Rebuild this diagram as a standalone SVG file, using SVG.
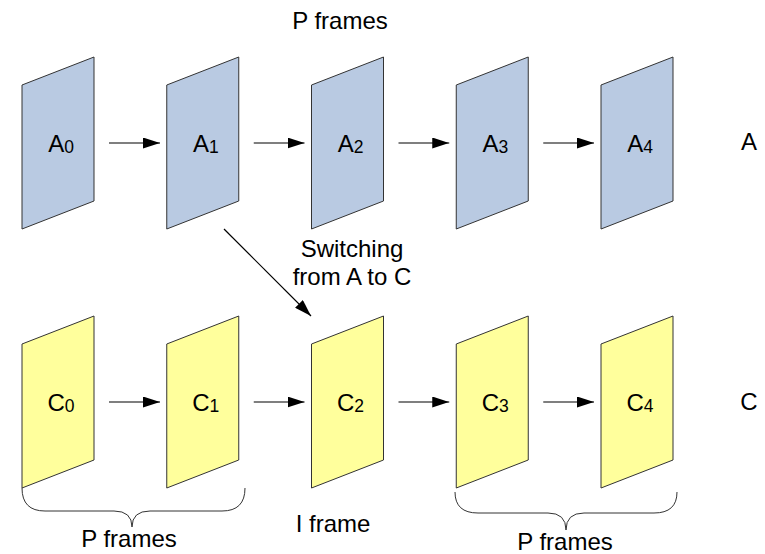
<svg xmlns="http://www.w3.org/2000/svg" width="765" height="554" viewBox="0 0 765 554">
<defs>
<style>
.a{fill:#b9cae2;stroke:#333;stroke-width:1}
.c{fill:#ffff9c;stroke:#333;stroke-width:1}
text{font-family:"Liberation Sans",Arial,sans-serif;font-size:24px;fill:#000}
.lbl{text-anchor:middle}
.sub{font-size:17.5px}
.conn{stroke:#000;stroke-width:1.2;fill:none;marker-end:url(#ah)}
.brace{stroke:#333;stroke-width:1;fill:none}
</style>
<marker id="ah" markerUnits="userSpaceOnUse" markerWidth="17" markerHeight="11" refX="17" refY="5.5" orient="auto">
<path d="M0,0 L17,5.5 L0,11 z" fill="#000"/>
</marker>
<polygon id="pg" points="0,28 72,0 72,144 0,172"/>
</defs>
<rect width="765" height="554" fill="#fff"/>

<text x="340" y="29" class="lbl">P frames</text>

<g id="A0"><use href="#pg" x="22" y="57" class="a"/><text x="61" y="152" class="lbl">A<tspan class="sub" dy="1">0</tspan></text></g>
<g id="A1"><use href="#pg" x="166.75" y="57" class="a"/><text x="205.75" y="152" class="lbl">A<tspan class="sub" dy="1">1</tspan></text></g>
<g id="A2"><use href="#pg" x="311.5" y="57" class="a"/><text x="350.5" y="152" class="lbl">A<tspan class="sub" dy="1">2</tspan></text></g>
<g id="A3"><use href="#pg" x="456.25" y="57" class="a"/><text x="495.25" y="152" class="lbl">A<tspan class="sub" dy="1">3</tspan></text></g>
<g id="A4"><use href="#pg" x="601" y="57" class="a"/><text x="640" y="152" class="lbl">A<tspan class="sub" dy="1">4</tspan></text></g>
<text x="749" y="150" class="lbl">A</text>

<g id="C0"><use href="#pg" x="22" y="316" class="c"/><text x="61" y="411" class="lbl">C<tspan class="sub" dy="1">0</tspan></text></g>
<g id="C1"><use href="#pg" x="166.75" y="316" class="c"/><text x="205.75" y="411" class="lbl">C<tspan class="sub" dy="1">1</tspan></text></g>
<g id="C2"><use href="#pg" x="311.5" y="316" class="c"/><text x="350.5" y="411" class="lbl">C<tspan class="sub" dy="1">2</tspan></text></g>
<g id="C3"><use href="#pg" x="456.25" y="316" class="c"/><text x="495.25" y="411" class="lbl">C<tspan class="sub" dy="1">3</tspan></text></g>
<g id="C4"><use href="#pg" x="601" y="316" class="c"/><text x="640" y="411" class="lbl">C<tspan class="sub" dy="1">4</tspan></text></g>
<text x="749" y="410" class="lbl">C</text>

<g id="connectors">
<line class="conn" x1="109" y1="143" x2="160" y2="143"/>
<line class="conn" x1="253.75" y1="143" x2="304.5" y2="143"/>
<line class="conn" x1="398.5" y1="143" x2="449.25" y2="143"/>
<line class="conn" x1="543.25" y1="143" x2="594" y2="143"/>
<line class="conn" x1="109" y1="402" x2="160" y2="402"/>
<line class="conn" x1="253.75" y1="402" x2="304.5" y2="402"/>
<line class="conn" x1="398.5" y1="402" x2="449.25" y2="402"/>
<line class="conn" x1="543.25" y1="402" x2="594" y2="402"/>
<line class="conn" x1="224" y1="229" x2="311" y2="316"/>
</g>

<text x="352" y="257" class="lbl">Switching</text>
<text x="352" y="285" class="lbl">from A to C</text>

<path class="brace" d="M22,488 Q22,511 45,511 L114,511 Q132,511 132,527 Q132,511 150,511 L222,511 Q245,511 245,488"/>
<path class="brace" d="M455,492 Q455,513 478,513 L548,513 Q566,513 566,530 Q566,513 584,513 L654,513 Q677,513 677,492"/>

<text x="129" y="547" class="lbl">P frames</text>
<text x="333" y="532" class="lbl">I frame</text>
<text x="565" y="550" class="lbl">P frames</text>
</svg>
